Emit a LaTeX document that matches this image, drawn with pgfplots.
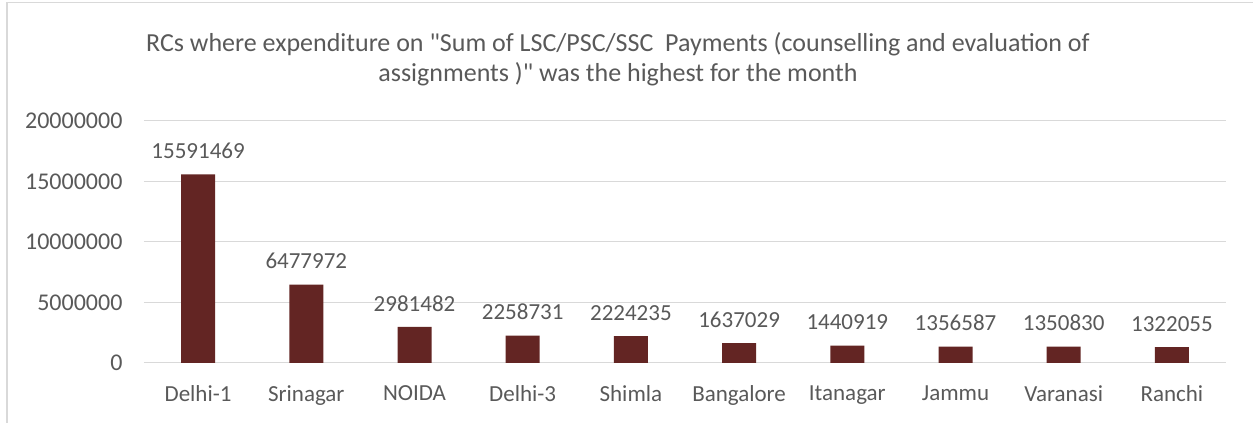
\documentclass[border=0pt]{standalone}
\usepackage{pgfplots}
\pgfplotsset{compat=1.18}
\usepackage{fontspec}
\setmainfont{Carlito}[Ligatures=TeXOff]
\definecolor{barc}{HTML}{632523}
\definecolor{txt}{HTML}{595959}
\definecolor{grd}{HTML}{D9D9D9}
\begin{document}
\begin{tikzpicture}
\useasboundingbox (0pt,0pt) rectangle (1253pt,423pt);
\draw[grd,line width=1.5pt] (7pt,-5pt) -- (7pt,420.5pt) -- (1260pt,420.5pt);
\begin{axis}[
  at={(144pt,60pt)}, anchor=south west,
  scale only axis, width=1082pt, height=242pt,
  xmin=-0.5, xmax=9.5, ymin=0, ymax=20000000,
  axis line style={draw=none},
  ymajorgrids, grid style={grd,line width=1pt},
  ytick={0,5000000,10000000,15000000,20000000},
  xtick=data,
  xticklabels={Delhi-1,Srinagar,NOIDA,Delhi-3,Shimla,Bangalore,Itanagar,Jammu,Varanasi,Ranchi},
  scaled y ticks=false,
  yticklabel style={/pgf/number format/fixed,/pgf/number format/1000 sep={},font=\fontsize{24}{24}\selectfont,text=txt,xshift=-18pt},
  xticklabel style={font=\fontsize{23}{23}\selectfont,text=txt,yshift=-19pt},
  /pgf/number format/assume math mode=true,
  major tick length=0pt,
  ybar, bar width=34pt,
  nodes near coords,
  nodes near coords style={font=\fontsize{23}{23}\selectfont,text=txt,/pgf/number format/fixed,/pgf/number format/1000 sep={},yshift=12pt},
  clip=false,
]
\addplot[fill=barc,draw=none] coordinates {
(0,15591469) (1,6477972) (2,2981482) (3,2258731) (4,2224235)
(5,1637029) (6,1440919) (7,1356587) (8,1350830) (9,1322055)};
\end{axis}
\node[text=txt,font=\fontsize{26}{30}\selectfont,align=center] at (618pt,364pt) {RCs where expenditure on "Sum of LSC/PSC/SSC\ \ Payments (counselling and evaluation of\\ assignments )" was the highest for the month};
\end{tikzpicture}
\end{document}
